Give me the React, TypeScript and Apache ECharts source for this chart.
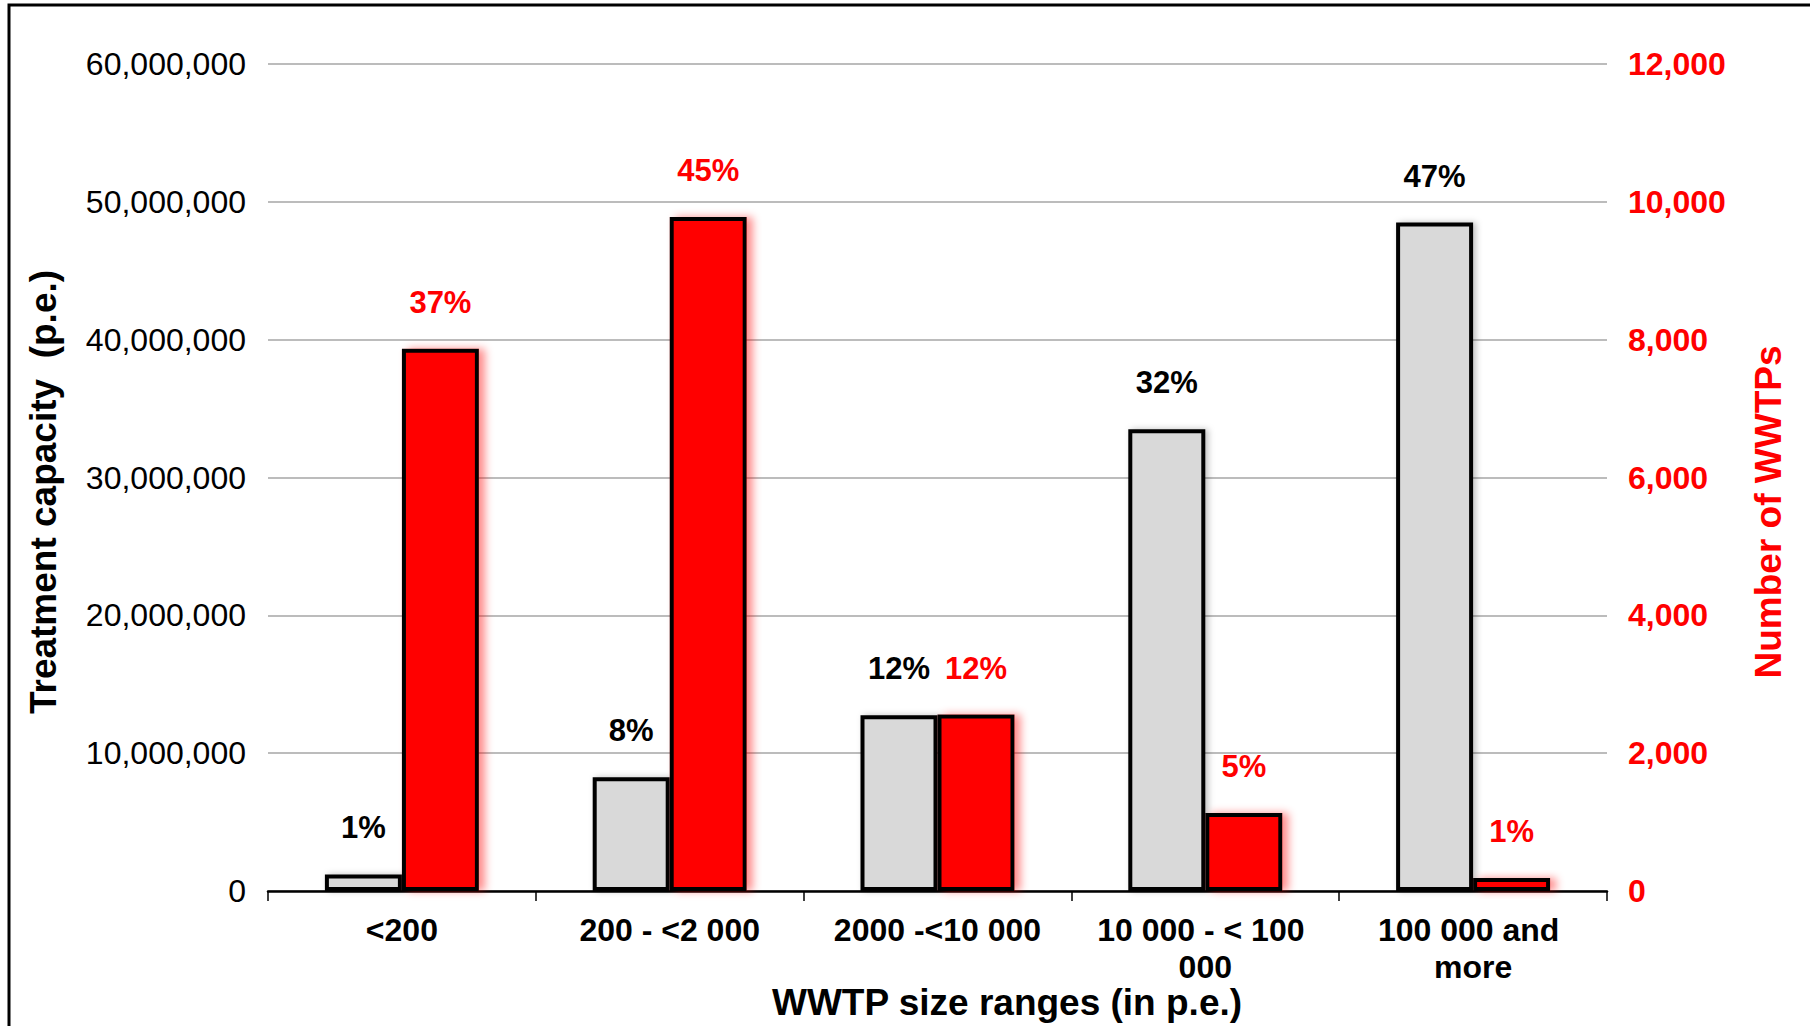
import React, { useEffect, useRef } from "react";
import * as echarts from "echarts";

const categories = ["<200", "200 - <2 000", "2000 -<10 000", "10 000 - < 100 000", "100 000 and more"];
const capacity = [1200000, 8250000, 12750000, 33500000, 48500000];
const plants = [7870, 9780, 2560, 1130, 190];
const capacityPct = ["1%", "8%", "12%", "32%", "47%"];
const plantsPct = ["37%", "45%", "12%", "5%", "1%"];
const leftTicks = { min: 0, max: 60000000, interval: 10000000 };
const rightTicks = { min: 0, max: 12000, interval: 2000 };

const FONT = "Liberation Sans, Arial, sans-serif";

export default function App() {
  const ref = useRef<HTMLDivElement>(null);
  useEffect(() => {
    if (!ref.current) return;
    const chart = echarts.init(ref.current, null, { renderer: "svg" });
    const fmt = (v: number) => v.toLocaleString("en-US");
    chart.setOption({
      animation: false,
      backgroundColor: "#ffffff",
      textStyle: { fontFamily: FONT },
      grid: { left: 268, top: 64, width: 1339, height: 827, containLabel: false },
      xAxis: {
        type: "category",
        data: categories,
        axisLine: { show: true, lineStyle: { color: "#000", width: 2.5 } },
        axisTick: { show: true, alignWithLabel: false, length: 10, lineStyle: { color: "#000", width: 1.5 } },
        axisLabel: {
          color: "#000",
          fontFamily: FONT,
          fontWeight: "bold",
          fontSize: 32,
          lineHeight: 37,
          margin: 20,
          width: 240,
          overflow: "break",
          interval: 0,
        },
        splitLine: { show: false },
      },
      yAxis: [
        {
          type: "value",
          ...leftTicks,
          position: "left",
          axisLine: { show: false },
          axisTick: { show: false },
          axisLabel: { color: "#000", fontFamily: FONT, fontSize: 32, margin: 22, formatter: fmt },
          splitLine: { show: true, lineStyle: { color: "#a6a6a6", width: 1.5 } },
        },
        {
          type: "value",
          ...rightTicks,
          position: "right",
          axisLine: { show: false },
          axisTick: { show: false },
          axisLabel: { color: "#ff0000", fontFamily: FONT, fontWeight: "bold", fontSize: 32, margin: 21, formatter: fmt },
          splitLine: { show: false },
        },
      ],
      series: [
        {
          name: "Treatment capacity",
          type: "bar",
          yAxisIndex: 0,
          data: capacity,
          barWidth: 77,
          barGap: "0%",
          itemStyle: {
            color: "#d9d9d9",
            borderColor: "#000",
            borderWidth: 4,
            shadowColor: "rgba(0,0,0,0.25)",
            shadowBlur: 6,
            shadowOffsetX: 3,
          },
          label: {
            show: true,
            position: "top",
            distance: 31,
            color: "#000",
            fontFamily: FONT,
            fontWeight: "bold",
            fontSize: 31,
            formatter: (p: any) => capacityPct[p.dataIndex],
          },
        },
        {
          name: "Number of WWTPs",
          type: "bar",
          yAxisIndex: 1,
          data: plants,
          barWidth: 77,
          barGap: "0%",
          itemStyle: {
            color: "#ff0000",
            borderColor: "#000",
            borderWidth: 4,
            shadowColor: "rgba(255,0,0,0.45)",
            shadowBlur: 8,
            shadowOffsetX: 6,
          },
          label: {
            show: true,
            position: "top",
            distance: 31,
            color: "#ff0000",
            fontFamily: FONT,
            fontWeight: "bold",
            fontSize: 31,
            formatter: (p: any) => plantsPct[p.dataIndex],
          },
        },
      ],
      graphic: [
        {
          type: "rect",
          shape: { x: 9, y: 5, width: 1900, height: 1100 },
          style: { fill: "none", stroke: "#000", lineWidth: 3 },
          silent: true,
        },
        {
          type: "text",
          x: 43,
          y: 492,
          rotation: Math.PI / 2,
          style: {
            text: "Treatment capacity  (p.e.)",
            fill: "#000",
            font: `bold 37px ${FONT}`,
            textAlign: "center",
            textVerticalAlign: "middle",
          },
        },
        {
          type: "text",
          x: 1768,
          y: 512,
          rotation: Math.PI / 2,
          style: {
            text: "Number of WWTPs",
            fill: "#ff0000",
            font: `bold 37px ${FONT}`,
            textAlign: "center",
            textVerticalAlign: "middle",
          },
        },
        {
          type: "text",
          x: 1007,
          y: 1002,
          style: {
            text: "WWTP size ranges (in p.e.)",
            fill: "#000",
            font: `bold 37px ${FONT}`,
            textAlign: "center",
            textVerticalAlign: "middle",
          },
        },
      ],
    });
    return () => chart.dispose();
  }, []);
  return (
    <div
      ref={ref}
      style={{ position: "absolute", left: 0, top: 0, width: 1810, height: 1026 }}
    />
  );
}
